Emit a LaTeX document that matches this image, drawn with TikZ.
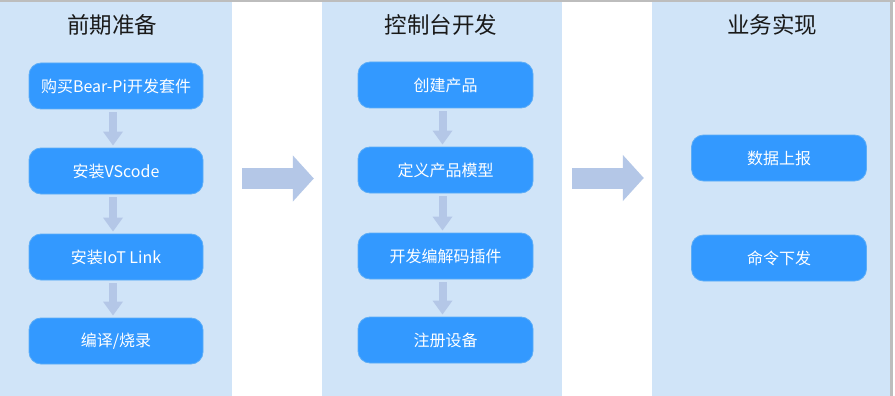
\documentclass[tikz,border=0pt]{standalone}
\usepackage{fontspec}
\newfontfamily\cjk{Noto Sans CJK SC}
\usetikzlibrary{arrows.meta}
\definecolor{panelbg}{HTML}{D0E4F8}
\definecolor{boxfill}{HTML}{3399FF}
\definecolor{boxedge}{HTML}{5CADF7}
\definecolor{arrowc}{HTML}{B4C7E7}
\definecolor{framec}{HTML}{BDBDBD}
\tikzset{
  panel/.style={fill=panelbg, draw=none, inner sep=0pt, minimum height=394pt},
  ptitle/.style={font=\cjk\fontsize{22.5}{26}\selectfont, text=black!90, inner sep=0pt},
  stepbox/.style={rectangle, rounded corners=12pt, fill=boxfill, draw=boxedge, line width=0.8pt,
     minimum width=175pt, minimum height=46pt, inner sep=0pt, text=white,
     font=\cjk\fontsize{16}{19}\selectfont},
  smallarrow/.style={draw=arrowc, line width=8pt, -{Triangle[width=19pt,length=14pt]},
     shorten <=3pt, shorten >=2pt},
  bigarrow/.style={draw=arrowc, line width=21pt, -{Triangle[width=45pt,length=21pt]},
     shorten <=10pt, shorten >=8pt}
}
\begin{document}
\begin{tikzpicture}[x=1pt,y=-1pt]
\useasboundingbox (0,0) rectangle (895,396);
\fill[white] (0,0) rectangle (895,396);
% frame
\fill[framec] (0,0) rectangle (895,2);
\fill[framec] (890,0) rectangle (893,396);
% panels
\node[panel, minimum width=232pt] (p1) at (116,199) {};
\node[panel, minimum width=240pt] (p2) at (442,199) {};
\node[panel, minimum width=238pt] (p3) at (771,199) {};
% titles
\node[ptitle] (t1) at (112,25) {前期准备};
\node[ptitle] (t2) at (441,25) {控制台开发};
\node[ptitle] (t3) at (772,25) {业务实现};
% panel 1 boxes
\node[stepbox, minimum width=174pt] (a1) at (116,86) {购买Bear-Pi开发套件};
\node[stepbox, minimum width=174pt] (a2) at (116,171) {安装VScode};
\node[stepbox, minimum width=174pt] (a3) at (116,257) {安装IoT Link};
\node[stepbox, minimum width=174pt] (a4) at (116,341) {编译/烧录};
% panel 2 boxes
\node[stepbox] (b1) at (445.5,85) {创建产品};
\node[stepbox] (b2) at (445.5,170) {定义产品模型};
\node[stepbox] (b3) at (445.5,256) {开发编解码插件};
\node[stepbox] (b4) at (445.5,340) {注册设备};
% panel 3 boxes
\node[stepbox] (c1) at (779,158) {数据上报};
\node[stepbox] (c2) at (779,258) {命令下发};
% small arrows
\draw[smallarrow] ([xshift=-3pt]a1.south) -- ([xshift=-3pt]a2.north);
\draw[smallarrow] ([xshift=-3pt]a2.south) -- ([xshift=-3pt]a3.north);
\draw[smallarrow] ([xshift=-3pt]a3.south) -- ([xshift=-3pt]a4.north);
\draw[smallarrow] ([xshift=-3pt]b1.south) -- ([xshift=-3pt]b2.north);
\draw[smallarrow] ([xshift=-3pt]b2.south) -- ([xshift=-3pt]b3.north);
\draw[smallarrow] ([xshift=-3pt]b3.south) -- ([xshift=-3pt]b4.north);
% big arrows
\draw[bigarrow] ([yshift=20.5pt]p1.east) -- ([yshift=20.5pt]p2.west);
\draw[bigarrow] ([yshift=21pt]p2.east) -- ([yshift=21pt]p3.west);
\end{tikzpicture}
\end{document}
